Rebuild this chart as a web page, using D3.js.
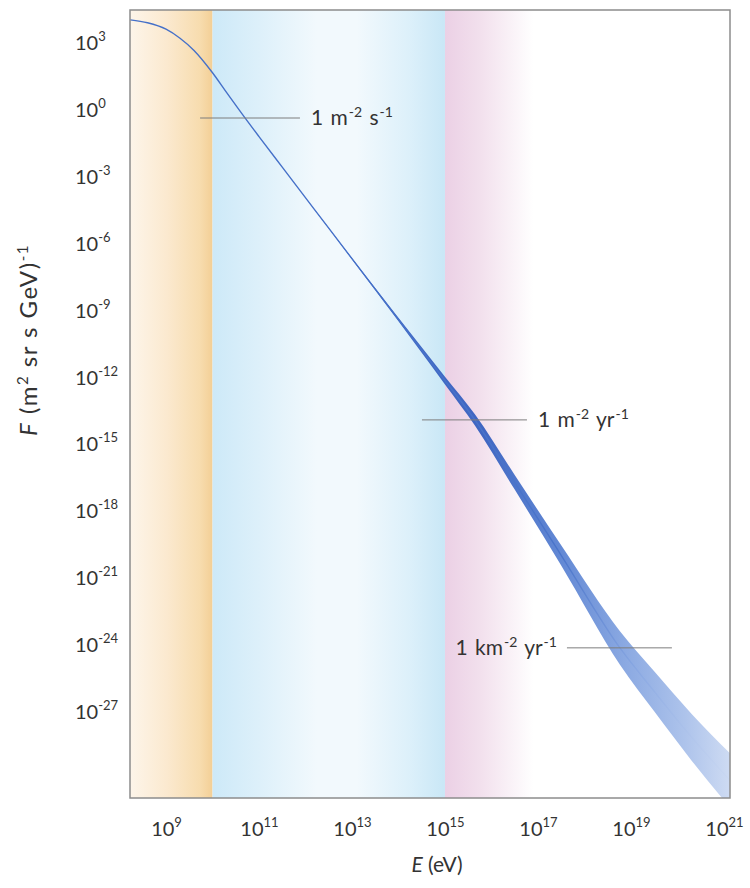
<!DOCTYPE html>
<html>
<head>
<meta charset="utf-8">
<script src="https://cdn.jsdelivr.net/npm/d3@7"></script>
<style>
  body { margin: 0; background: #ffffff; }
  svg { display: block; }
  text { font-family: Lato, "Open Sans", sans-serif; fill: #333333; }
</style>
</head>
<body>
<svg id="chart" width="750" height="888"></svg>
<script>
// ---------- data ----------
const energy = [1.7e8, 4e8, 1e9, 2e9, 4e9, 1e10, 2e10, 5e10, 1e11, 3.16e11, 3.16e12, 3.16e13, 3.16e14, 1e15, 4.4e15, 3.16e16, 3.16e17, 5.8e18, 3.16e19, 2e20, 1.35e21];
const flux   = [9.9e3, 7.3e3, 3.76e3, 1.48e3, 4.17e2, 4.17e1, 5.5e0, 3.93e-1, 5.66e-2, 2.39e-3, 4.35e-6, 7.93e-9, 1.48e-11, 6.22e-13, 1.07e-14, 1.69e-17, 8.81e-21, 6.15e-25, 6.92e-27, 6.14e-29, 6.9e-31];
const spreadDecades = [0, 0, 0, 0, 0, 0, 0, 0, 0, 0, 0.01, 0.05, 0.12, 0.17, 0.25, 0.33, 0.45, 0.75, 0.9, 1.05, 1.22];

const xTicks = [1e9, 1e11, 1e13, 1e15, 1e17, 1e19, 1e21];
const xTickExp = ["9", "11", "13", "15", "17", "19", "21"];
const yTicks = [1e3, 1e0, 1e-3, 1e-6, 1e-9, 1e-12, 1e-15, 1e-18, 1e-21, 1e-24, 1e-27];
const yTickExp = ["3", "0", "-3", "-6", "-9", "-12", "-15", "-18", "-21", "-24", "-27"];

const bandStart = [1.68e8, 1e10, 1e15];
const bandEnd   = [1e10, 1e15, 8e16];

const markerFlux  = [3.86e-1, 1.07e-14, 6.2e-25];
const markerFrom  = [5.4e9, 3.2e14, 4.2e17];
const markerTo    = [7.6e11, 5.8e16, 7.6e19];
const markerUnit  = ["m", "m", "km"];
const markerTime  = ["s", "yr", "yr"];
const markerSide  = ["right", "right", "left"];

// ---------- layout ----------
const svg = d3.select("#chart");
const L = 130, R = 730, T = 10, B = 798;
const x = d3.scaleLog().domain([1.68e8, 1.35e21]).range([L, R]);
const y = d3.scaleLog().domain([2.735e4, 1.12e-31]).range([T, B]);

const defs = svg.append("defs");
defs.append("clipPath").attr("id", "plotclip")
  .append("rect").attr("x", L).attr("y", T).attr("width", R - L).attr("height", B - T);

function grad(id, x1, x2, stops) {
  const g = defs.append("linearGradient").attr("id", id)
    .attr("gradientUnits", "userSpaceOnUse")
    .attr("x1", x1).attr("x2", x2).attr("y1", 0).attr("y2", 0);
  stops.forEach(s => g.append("stop").attr("offset", s[0]).attr("stop-color", s[1]));
}

const bandStops = [
  [[0, "#fdf5ea"], [0.45, "#fbe9cf"], [0.85, "#f7dcae"], [1, "#f3cf96"]],
  [[0, "#cde9f8"], [0.2, "#ddf0fa"], [0.45, "#f2f9fd"], [0.62, "#f2f9fd"], [0.85, "#dcf0fa"], [1, "#c9e7f6"]],
  [[0, "#ebd0e5"], [0.4, "#f2e0ed"], [1, "#ffffff"]]
];

const gBands = svg.append("g").attr("clip-path", "url(#plotclip)");
bandStart.forEach((s, i) => {
  const x1 = x(s), x2 = x(bandEnd[i]);
  grad("band" + i, x1, x2, bandStops[i]);
  gBands.append("rect")
    .attr("x", x1).attr("y", T).attr("width", x2 - x1).attr("height", B - T)
    .attr("fill", "url(#band" + i + ")");
});

// ---------- spectrum ----------
const pts = energy.map((e, i) => ({
  e: e, f: flux[i],
  hi: flux[i] * Math.pow(10, spreadDecades[i]),
  lo: flux[i] / Math.pow(10, spreadDecades[i])
}));

grad("bandFill", x(1e13), x(1.35e21), [
  [0, "#3c66c4"], [0.35, "#3660c0"], [0.55, "#5a82d2"], [0.72, "#84a4e0"], [0.88, "#a9c0ea"], [1, "#cbd9f2"]
]);
grad("lineStroke", x(1e13), x(1.35e21), [
  [0, "#4570c8"], [0.55, "#4a74ca"], [0.75, "#88a7e2"], [1, "#cbd9f2"]
]);

const gCurve = svg.append("g").attr("clip-path", "url(#plotclip)");
const area = d3.area()
  .x(d => x(d.e)).y0(d => y(d.lo)).y1(d => y(d.hi))
  .curve(d3.curveMonotoneX);
gCurve.append("path").datum(pts.slice(9))
  .attr("d", area).attr("fill", "url(#bandFill)").attr("opacity", 0.95);

const line = d3.line().x(d => x(d.e)).y(d => y(d.f)).curve(d3.curveMonotoneX);
gCurve.append("path").datum(pts)
  .attr("d", line).attr("fill", "none")
  .attr("stroke", "url(#lineStroke)").attr("stroke-width", 1.4);

// ---------- markers ----------
const gMark = svg.append("g");
markerFlux.forEach((f, i) => {
  const yy = y(f);
  gMark.append("line")
    .attr("x1", x(markerFrom[i])).attr("x2", x(markerTo[i]))
    .attr("y1", yy).attr("y2", yy)
    .attr("stroke", "#7d7d7d").attr("stroke-width", 1);
  const right = markerSide[i] === "right";
  const t = gMark.append("text")
    .attr("x", right ? x(markerTo[i]) + 11 : x(markerFrom[i]) - 10)
    .attr("y", yy + 7)
    .attr("text-anchor", right ? "start" : "end")
    .attr("font-size", 21)
    .attr("word-spacing", 2);
  t.append("tspan").text("1 " + markerUnit[i]);
  t.append("tspan").attr("font-size", 14).attr("dy", -8).attr("dx", 1).text("-2");
  t.append("tspan").attr("dy", 8).text(" " + markerTime[i]);
  t.append("tspan").attr("font-size", 14).attr("dy", -8).attr("dx", 1).text("-1");
});

// ---------- frame ----------
svg.append("rect").attr("x", L).attr("y", T).attr("width", R - L).attr("height", B - T)
  .attr("fill", "none").attr("stroke", "#8c8c8c").attr("stroke-width", 1.5);

// ---------- axes ----------
const xAxis = svg.append("g").attr("transform", `translate(0,${B})`)
  .call(d3.axisBottom(x).tickValues(xTicks).tickSize(0).tickFormat(""));
xAxis.select(".domain").remove();
xAxis.selectAll(".tick").each(function(d, i) {
  const t = d3.select(this).append("text")
    .attr("y", 38).attr("text-anchor", "middle").attr("font-size", 20).attr("fill", "#333333");
  t.append("tspan").text("10");
  t.append("tspan").attr("font-size", 13).attr("dy", -9).text(xTickExp[i]);
});

const yAxis = svg.append("g").attr("transform", `translate(${L},0)`)
  .call(d3.axisLeft(y).tickValues(yTicks).tickSize(0).tickFormat(""));
yAxis.select(".domain").remove();
yAxis.selectAll(".tick").each(function(d, i) {
  const t = d3.select(this).append("text")
    .attr("x", -55).attr("y", 8).attr("text-anchor", "start").attr("font-size", 20).attr("fill", "#333333");
  t.append("tspan").text("10");
  t.append("tspan").attr("font-size", 13).attr("dy", -9).text(yTickExp[i]);
});

// axis titles
const xt = svg.append("text").attr("x", 437).attr("y", 872).attr("text-anchor", "middle").attr("font-size", 21);
xt.append("tspan").attr("font-style", "italic").text("E");
xt.append("tspan").text(" (eV)");

const yt = svg.append("text").attr("transform", "translate(37,340) rotate(-90)")
  .attr("text-anchor", "middle").attr("font-size", 24).attr("letter-spacing", 1.5);
yt.append("tspan").attr("font-style", "italic").text("F");
yt.append("tspan").text(" (m");
yt.append("tspan").attr("font-size", 15).attr("dy", -9).text("2");
yt.append("tspan").attr("dy", 9).text(" sr s GeV)");
yt.append("tspan").attr("font-size", 15).attr("dy", -9).text("-1");
</script>
</body>
</html>
